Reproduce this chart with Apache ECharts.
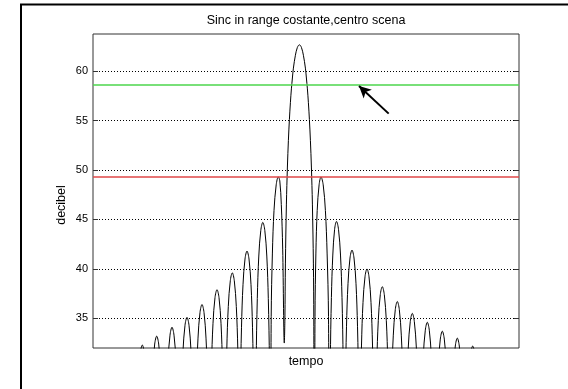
<!DOCTYPE html>
<html>
<head>
<meta charset="utf-8">
<script src="https://cdn.jsdelivr.net/npm/echarts/dist/echarts.min.js"></script>
<style>
  html, body { margin: 0; padding: 0; background: #fff; }
  #chart { width: 568px; height: 389px; }
</style>
</head>
<body>
<div id="chart"></div>
<script>
// ---- data ----
var titleText = 'Sinc in range costante,centro scena';
var xName = 'tempo';
var yName = 'decibel';
var yTicks = [35, 40, 45, 50, 55, 60];
var yMin = 32, yMax = 63.75;
var xMin = 0, xMax = 426;

// traced points of the sinc curve (tempo samples, dB); nulls fall below the axis and are clipped
var tempo = [
  41.7,
  42.7, 43.8, 45.3, 47.3, 49.3, 51.3, 53.3, 54.8, 55.9, 56.5,
  57.1, 58.2, 59.7, 61.7, 63.7, 65.7, 67.7, 69.2, 70.3, 71.35,
  72.4, 73.5, 75, 77, 79, 81, 83, 84.5, 85.6, 86.5,
  87.4, 88.5, 90, 92, 94, 96, 98, 99.5, 100.6, 101.5,
  102.4, 103.5, 105, 107, 109, 111, 113, 114.5, 115.6, 116.5,
  117.4, 118.5, 120, 122, 124, 126, 128, 129.5, 130.6, 131.65,
  132.7, 133.8, 135.3, 137.3, 139.3, 141.3, 143.3, 144.8, 145.9, 146.65,
  147.4, 148.5, 150, 152, 154, 156, 158, 159.5, 160.6, 161.9,
  163.2, 164.3, 165.8, 167.8, 169.8, 171.8, 173.8, 175.3, 176.4, 177.2,
  178.2, 179.4, 181, 183.2, 185.3, 186.8, 188.3, 189.7, 191.3,
  191.9, 192.4, 193.4, 194.4, 195.4, 196.4, 197.4, 198.4, 199.4, 200.4, 202.4, 204.4, 206.4,
  208.4, 210.4, 212.4, 213.4, 214.4, 215.4, 216.4, 217.4, 218.4, 219.4, 220.4, 220.8, 221.3,
  222.0, 222.9, 224.2, 226.1, 228, 230.2, 232.4, 234.1, 235.5, 236.8,
  237.4, 238.4, 239.8, 241.6, 243.5, 245.5, 247.5, 249, 250.1, 251.25,
  252.4, 253.5, 255, 257, 259, 261, 263, 264.5, 265.6, 266.5,
  267.4, 268.5, 270, 272, 274, 276, 278, 279.5, 280.6, 281.65,
  282.7, 283.8, 285.3, 287.3, 289.3, 291.3, 293.3, 294.8, 295.9, 296.8,
  297.7, 298.8, 300.3, 302.3, 304.3, 306.3, 308.3, 309.8, 310.9, 311.8,
  312.7, 313.8, 315.3, 317.3, 319.3, 321.3, 323.3, 324.8, 325.9, 326.8,
  327.7, 328.8, 330.3, 332.3, 334.3, 336.3, 338.3, 339.8, 340.9, 341.8,
  342.7, 343.8, 345.3, 347.3, 349.3, 351.3, 353.3, 354.8, 355.9, 356.8,
  357.7, 358.8, 360.3, 362.3, 364.3, 366.3, 368.3, 369.8, 370.9, 372,
  373.1, 374.2, 375.7, 377.7, 379.7, 381.7, 383.7, 385.2, 386.3, 387.4
];
var decibel = [
  10,
  18.2, 24.6, 28.9, 31.5, 32.3, 31.5, 28.9, 24.6, 18.2, 10,
  19.1, 25.5, 29.8, 32.4, 33.2, 32.4, 29.8, 25.5, 19.1, 10,
  20.0, 26.4, 30.7, 33.3, 34.1, 33.3, 30.7, 26.4, 20.0, 10,
  21.0, 27.4, 31.7, 34.3, 35.1, 34.3, 31.7, 27.4, 21.0, 10,
  22.3, 28.7, 33.0, 35.6, 36.4, 35.6, 33.0, 28.7, 22.3, 10,
  23.8, 30.2, 34.5, 37.1, 37.9, 37.1, 34.5, 30.2, 23.8, 10,
  25.5, 31.9, 36.2, 38.8, 39.6, 38.8, 36.2, 31.9, 25.5, 10,
  27.7, 34.1, 38.4, 41.0, 41.8, 41.0, 38.4, 34.1, 27.7, 10,
  30.6, 37.0, 41.3, 43.9, 44.7, 43.9, 41.3, 37.0, 30.6, 10,
  35.2, 41.6, 45.9, 48.5, 49.3, 48.9, 46.5, 42.0, 32.5,
  35.0, 40.5, 46.55, 50.3, 53.0, 55.1, 56.8, 58.2, 59.3, 60.3, 61.6, 62.4, 62.66,
  62.4, 61.6, 60.3, 59.3, 58.2, 56.8, 55.1, 53.0, 50.3, 46.55, 40.5, 35.0, 10,
  35.2, 41.6, 45.9, 48.5, 49.3, 48.5, 45.9, 41.6, 35.2, 10,
  30.7, 37.1, 41.4, 44.0, 44.8, 44.0, 41.4, 37.1, 30.7, 10,
  27.8, 34.2, 38.5, 41.1, 41.9, 41.1, 38.5, 34.2, 27.8, 10,
  25.9, 32.3, 36.6, 39.2, 40.0, 39.2, 36.6, 32.3, 25.9, 10,
  24.1, 30.5, 34.8, 37.4, 38.2, 37.4, 34.8, 30.5, 24.1, 10,
  22.6, 29.0, 33.3, 35.9, 36.7, 35.9, 33.3, 29.0, 22.6, 10,
  21.4, 27.8, 32.1, 34.7, 35.5, 34.7, 32.1, 27.8, 21.4, 10,
  20.5, 26.9, 31.2, 33.8, 34.6, 33.8, 31.2, 26.9, 20.5, 10,
  19.6, 26.0, 30.3, 32.9, 33.7, 32.9, 30.3, 26.0, 19.6, 10,
  18.9, 25.3, 29.6, 32.2, 33.0, 32.2, 29.6, 25.3, 18.9, 10,
  18.1, 24.5, 28.8, 31.4, 32.2, 31.4, 28.8, 24.5, 18.1, 10
];

// reference levels and the arrow annotation (data coordinates)
var greenLevel = 58.6;
var redLevel = 49.35;
var arrowFrom = [295.7, 55.7];
var arrowTo = [266, 58.5];

// ---- chart ----
var chart = echarts.init(document.getElementById('chart'), null, { renderer: 'canvas' });
var FONT = '"Liberation Sans", Arial, Helvetica, sans-serif';
var points = tempo.map(function (t, i) { return [t, decibel[i]]; });

chart.setOption({
  animation: false,
  backgroundColor: '#fff',
  grid: {
    left: 93, top: 34, width: 426, height: 314,
    show: true, borderColor: '#333', borderWidth: 1
  },
  xAxis: {
    type: 'value', min: xMin, max: xMax,
    axisLine: { show: false }, axisTick: { show: false },
    axisLabel: { show: false }, splitLine: { show: false },
    name: xName, nameLocation: 'middle', nameGap: 7,
    nameTextStyle: { color: '#000', fontSize: 12.5, fontFamily: FONT }
  },
  yAxis: [
    {
      type: 'value', min: yMin, max: yMax, position: 'left',
      axisLine: { show: false },
      axisTick: { show: true, inside: true, length: 5, customValues: yTicks, lineStyle: { color: '#333' } },
      axisLabel: { customValues: yTicks, color: '#000', fontSize: 11, fontFamily: FONT, margin: 5 },
      splitLine: { show: true, lineStyle: { color: '#000', type: [1, 2], width: 1 } }
    },
    {
      type: 'value', min: yMin, max: yMax, position: 'right',
      axisLine: { show: false },
      axisTick: { show: true, inside: true, length: 5, customValues: yTicks, lineStyle: { color: '#333' } },
      axisLabel: { show: false }, splitLine: { show: false }
    }
  ],
  graphic: [
    { type: 'line', shape: { x1: 21, y1: 4.5, x2: 21, y2: 389 }, style: { stroke: '#000', lineWidth: 2 } },
    { type: 'line', shape: { x1: 20, y1: 4.5, x2: 568, y2: 4.5 }, style: { stroke: '#000', lineWidth: 2 } },
    { type: 'text', x: 306, y: 21, style: { text: titleText, align: 'center', verticalAlign: 'middle', fill: '#000', font: '12.5px ' + FONT } },
    { type: 'text', x: 62, y: 205, rotation: Math.PI / 2, style: { text: yName, align: 'center', verticalAlign: 'middle', fill: '#000', font: '12.5px ' + FONT } }
  ],
  series: [{
    type: 'line',
    data: points,
    showSymbol: false,
    smooth: 0.35,
    clip: true,
    lineStyle: { color: '#000', width: 1 },
    markLine: {
      silent: true,
      animation: false,
      symbol: ['none', 'none'],
      label: { show: false },
      data: [
        { yAxis: greenLevel, lineStyle: { color: '#4cd64c', width: 1.6, type: 'solid' } },
        { yAxis: redLevel, lineStyle: { color: '#e04848', width: 1.6, type: 'solid' } },
        [
          { coord: arrowFrom, symbol: 'none', lineStyle: { color: '#000', width: 2, type: 'solid' } },
          { coord: arrowTo, symbol: 'arrow', symbolSize: [9, 12], lineStyle: { color: '#000', width: 2, type: 'solid' } }
        ]
      ]
    }
  }]
});
</script>
</body>
</html>
